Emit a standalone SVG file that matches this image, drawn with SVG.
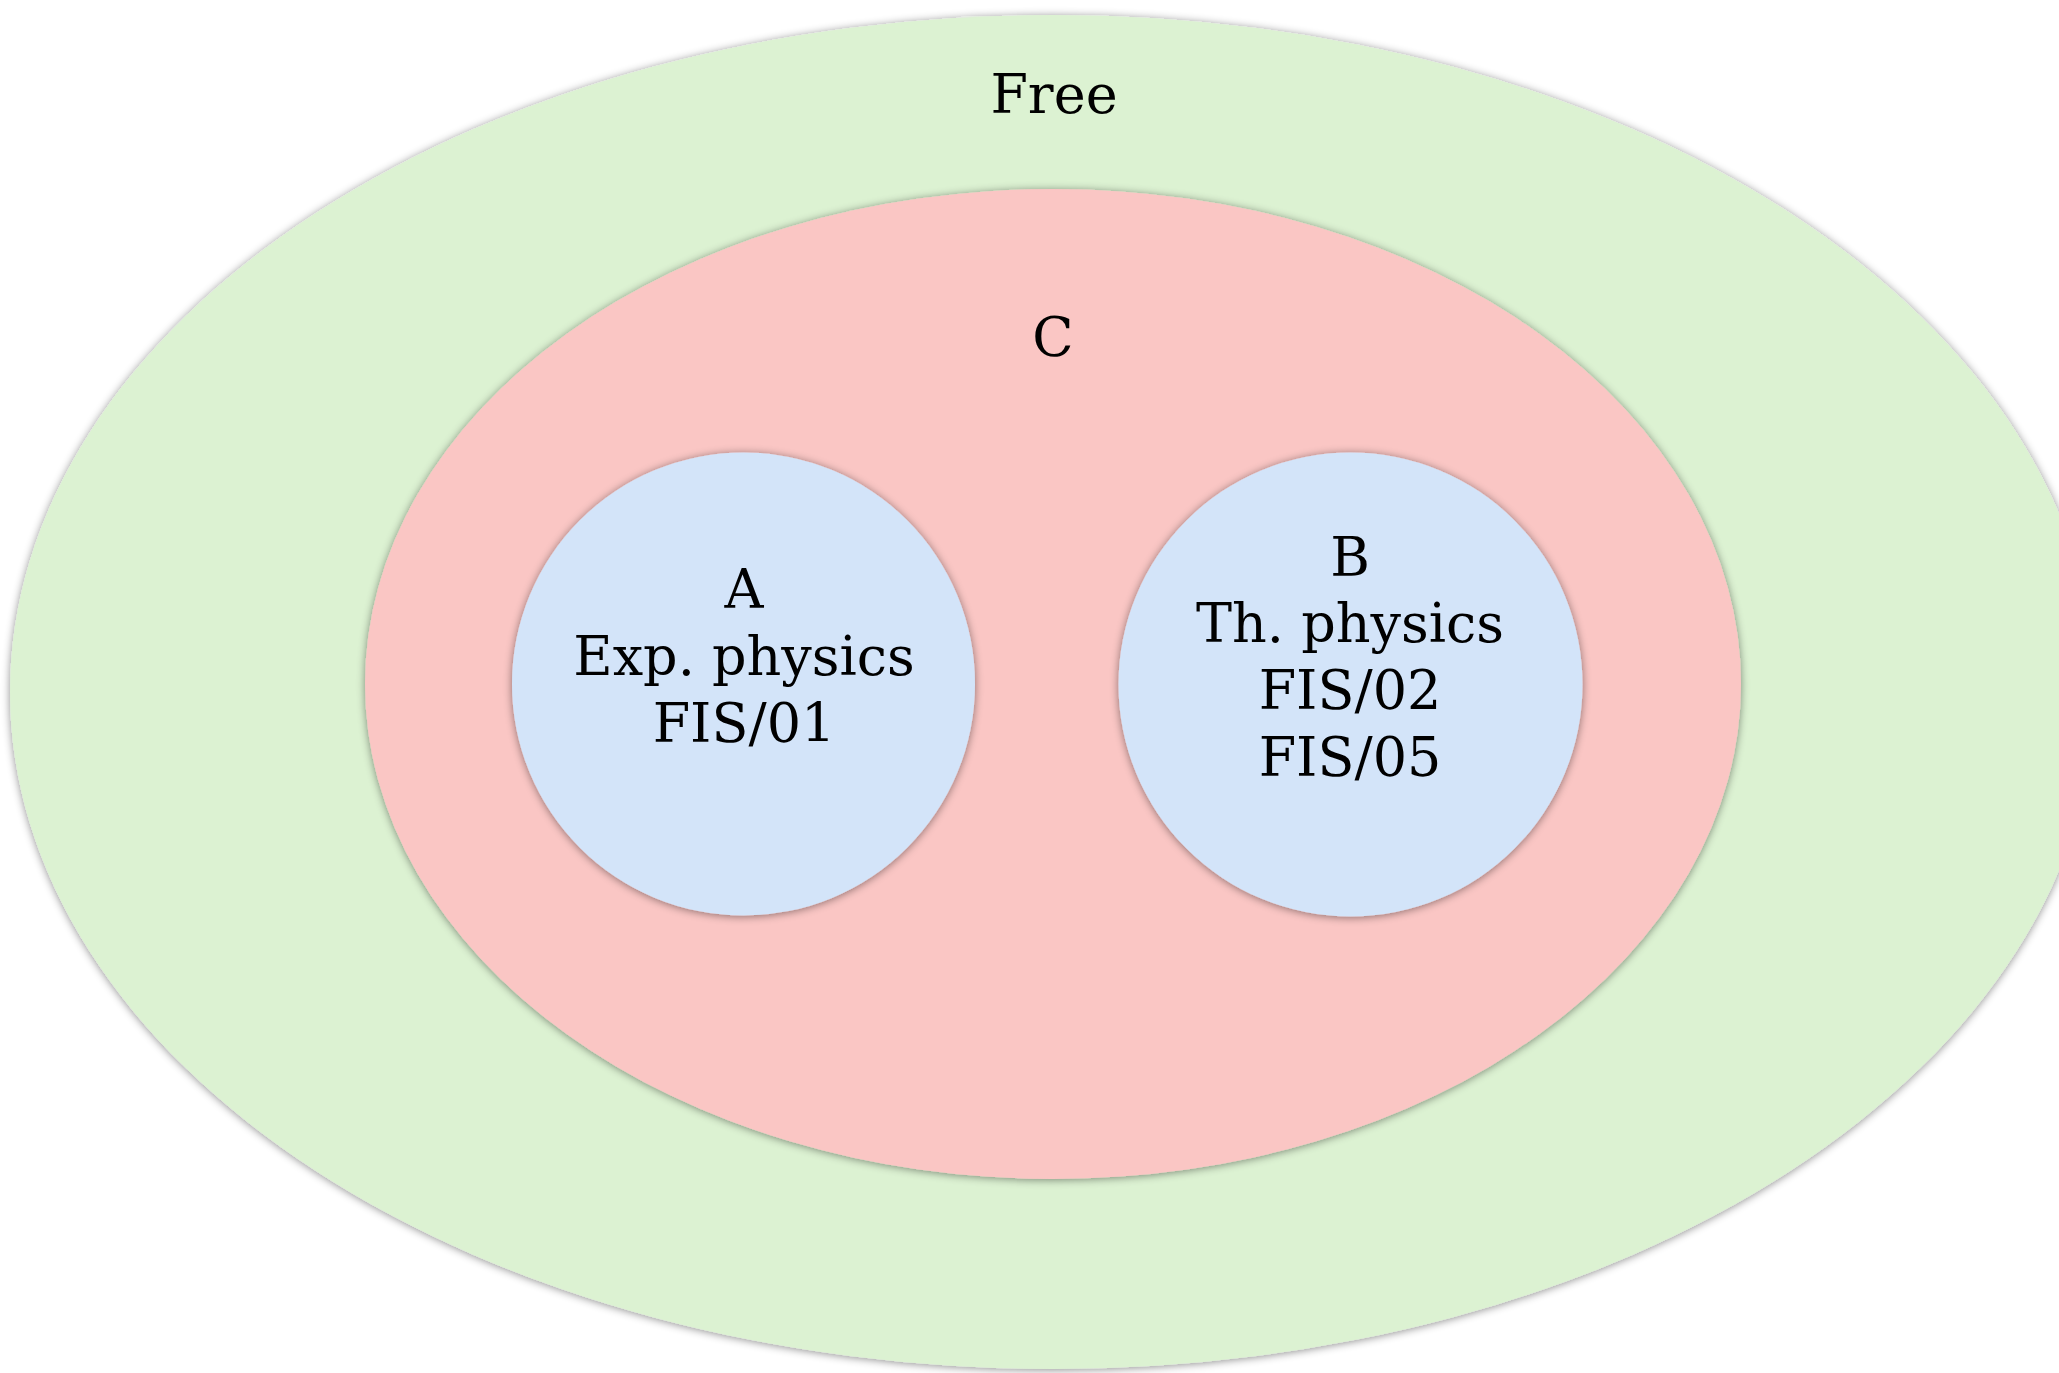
<svg xmlns="http://www.w3.org/2000/svg" width="2059" height="1373" viewBox="0 0 2059 1373">
  <defs>
    <filter id="sh" x="-10%" y="-10%" width="120%" height="120%">
      <feDropShadow dx="0" dy="1" stdDeviation="4" flood-color="#000" flood-opacity="0.45"/>
    </filter>
  </defs>
  <style>
    .lbl { font-family: "DejaVu Serif", "Liberation Serif", serif; font-size: 54px; fill: #000; text-anchor: middle; }
    .green { fill: #DCF2D2; filter: url(#sh); }
    .red { fill: #FAC6C4; filter: url(#sh); }
    .blue { fill: #D3E4F9; filter: url(#sh); }
  </style>
  <rect width="2059" height="1373" fill="#fff"/>
  <g id="free">
    <ellipse class="green" cx="1053" cy="692" rx="1043" ry="677"/>
    <text class="lbl" x="1054" y="113">Free</text>
  </g>
  <g id="C">
    <ellipse class="red" cx="1053" cy="684" rx="688" ry="495"/>
    <text class="lbl" x="1053" y="356">C</text>
  </g>
  <g id="A">
    <circle class="blue" cx="743.5" cy="684" r="231.5"/>
    <text class="lbl" x="744" y="608">A</text>
    <text class="lbl" x="744" y="675">Exp. physics</text>
    <text class="lbl" x="744" y="742">FIS/01</text>
  </g>
  <g id="B">
    <circle class="blue" cx="1350.5" cy="684.5" r="232"/>
    <text class="lbl" x="1350" y="576">B</text>
    <text class="lbl" x="1350" y="642">Th. physics</text>
    <text class="lbl" x="1350" y="709">FIS/02</text>
    <text class="lbl" x="1350" y="776">FIS/05</text>
  </g>
  <g id="connectors"/>
</svg>
